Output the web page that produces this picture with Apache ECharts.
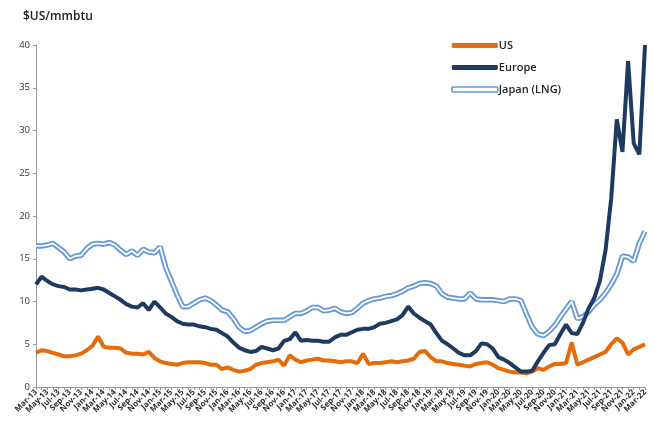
<!DOCTYPE html>
<html>
<head>
<meta charset="utf-8">
<script src="https://cdn.jsdelivr.net/npm/echarts@6/dist/echarts.min.js"></script>
<style>html,body{margin:0;padding:0;background:#fff;}#c{width:654px;height:425px;}</style>
</head>
<body>
<div id="c"></div>
<script>
const MONTHS = ['Jan','Feb','Mar','Apr','May','Jun','Jul','Aug','Sep','Oct','Nov','Dec'];
const categories = [];
for (let y = 13; y <= 22; y++) {
  for (let m = 0; m < 12; m++) {
    if (y === 13 && m < 2) continue;
    if (y === 22 && m > 2) break;
    categories.push(MONTHS[m] + '-' + y);
  }
}
const usPrices = [
  4.0,4.3,4.2,4.0,3.8,3.6,3.6,3.7,3.9,4.3,
  4.8,5.9,4.7,4.6,4.6,4.5,4.0,3.9,3.9,3.8,
  4.1,3.4,3.0,2.8,2.7,2.6,2.8,2.9,2.9,2.9,
  2.8,2.6,2.6,2.1,2.3,2.0,1.8,1.9,2.1,2.6,
  2.8,2.9,3.0,3.2,2.5,3.7,3.2,2.9,3.1,3.2,
  3.3,3.1,3.1,3.0,2.9,3.0,3.0,2.8,3.9,2.7,
  2.8,2.8,2.9,3.0,2.9,3.0,3.1,3.3,4.1,4.2,
  3.5,3.0,3.0,2.8,2.7,2.6,2.5,2.4,2.7,2.8,
  2.9,2.6,2.2,2.0,1.8,1.7,1.7,1.6,1.8,2.2,
  2.0,2.4,2.7,2.7,2.8,5.2,2.6,2.9,3.2,3.5,
  3.8,4.1,5.0,5.7,5.2,3.8,4.4,4.7,5.0
];
const europePrices = [
  12.0,12.9,12.4,12.0,11.8,11.7,11.4,11.4,11.3,11.4,
  11.5,11.6,11.4,11.0,10.6,10.2,9.7,9.4,9.3,9.8,
  9.0,10.0,9.3,8.6,8.2,7.7,7.4,7.3,7.3,7.1,
  7.0,6.8,6.7,6.3,5.9,5.2,4.6,4.3,4.1,4.2,
  4.7,4.5,4.3,4.5,5.4,5.6,6.4,5.4,5.5,5.4,
  5.4,5.3,5.3,5.8,6.1,6.1,6.4,6.7,6.8,6.8,
  7.0,7.4,7.5,7.7,7.9,8.4,9.4,8.6,8.1,7.7,
  7.3,6.3,5.4,5.0,4.5,4.0,3.7,3.7,4.2,5.1,
  5.0,4.5,3.5,3.2,2.8,2.3,1.8,1.8,1.9,3.0,
  4.0,4.9,5.0,6.2,7.3,6.3,6.2,7.5,9.2,10.4,
  12.4,16.0,22.0,31.3,27.5,38.1,28.5,27.2,40.0
];
const japanPrices = [
  16.5,16.5,16.6,16.8,16.3,15.8,15.0,15.3,15.4,16.2,
  16.7,16.8,16.7,16.9,16.6,16.0,15.5,15.9,15.4,16.1,
  15.8,15.7,16.4,14.0,12.4,10.8,9.4,9.4,9.8,10.2,
  10.4,10.1,9.6,9.0,8.8,8.0,7.0,6.5,6.6,7.0,
  7.4,7.7,7.8,7.8,7.8,8.2,8.6,8.6,8.9,9.3,
  9.3,8.9,9.0,9.2,8.8,8.6,8.7,9.2,9.8,10.1,
  10.3,10.4,10.6,10.7,10.9,11.2,11.6,11.8,12.1,12.2,
  12.1,11.8,10.9,10.5,10.4,10.3,10.3,11.0,10.3,10.2,
  10.2,10.2,10.1,10.0,10.3,10.3,10.1,8.5,7.0,6.2,
  6.0,6.5,7.2,8.2,9.1,10.0,8.0,8.2,8.8,9.6,
  10.2,11.0,12.0,13.2,15.3,15.2,14.7,16.8,18.2
];
const yTicks = {min: 0, max: 40, step: 5};
const seriesNames = ['US', 'Europe', 'Japan (LNG)'];
const unitLabel = '$US/mmbtu';

const US_C = '#e46c0a', EU_C = '#1f3a60', JP_C = '#6699d6';
const chart = echarts.init(document.getElementById('c'), null, {renderer: 'canvas'});
chart.setOption({
  animation: false,
  backgroundColor: '#fff',
  textStyle: {fontFamily: '"Open Sans", "Noto Sans", sans-serif'},
  title: {
    text: unitLabel, left: 18, top: 6,
    textStyle: {fontSize: 12, fontWeight: 600, color: '#222', fontFamily: '"Open Sans", sans-serif'}
  },
  legend: {
    orient: 'vertical', left: 446, top: 35, itemGap: 11,
    itemWidth: 46, itemHeight: 5,
    textStyle: {fontSize: 11, fontWeight: 600, color: '#222', padding: [0,0,0,-4]},
    data: [
      {name: seriesNames[0], icon: 'roundRect', itemStyle: {color: US_C}},
      {name: seriesNames[1], icon: 'roundRect', itemStyle: {color: EU_C}},
      {name: seriesNames[2], icon: 'roundRect', itemStyle: {color: '#fff', borderColor: JP_C, borderWidth: 1.6}}
    ]
  },
  grid: {left: 36, right: 9, top: 45, bottom: 38, containLabel: false},
  xAxis: {
    type: 'category', data: categories, boundaryGap: false,
    axisLine: {lineStyle: {color: '#9a9a9a', width: 1}},
    axisTick: {show: true, interval: 0, length: 3, lineStyle: {color: '#9a9a9a'}},
    axisLabel: {interval: 1, rotate: 45, fontSize: 8, fontWeight: 700, color: '#2a2a2a', margin: 4}
  },
  yAxis: {
    type: 'value', min: yTicks.min, max: yTicks.max, interval: yTicks.step,
    splitLine: {show: false},
    axisLine: {show: true, lineStyle: {color: '#9a9a9a'}},
    axisTick: {show: true, length: 3, lineStyle: {color: '#9a9a9a'}},
    axisLabel: {fontSize: 9.5, color: '#333', margin: 6}
  },
  series: [
    {name: seriesNames[2], type: 'line', data: japanPrices, symbol: 'none', z: 2,
      lineStyle: {color: JP_C, width: 5.5}, itemStyle: {color: JP_C}},
    {name: 'jp-core', type: 'line', data: japanPrices, symbol: 'none', z: 3, silent: true,
      lineStyle: {color: '#ffffff', width: 1.8}, itemStyle: {color: '#fff'}},
    {name: seriesNames[0], type: 'line', data: usPrices, symbol: 'none', z: 4,
      lineStyle: {color: US_C, width: 4}, itemStyle: {color: US_C}},
    {name: seriesNames[1], type: 'line', data: europePrices, symbol: 'none', z: 5,
      lineStyle: {color: EU_C, width: 4}, itemStyle: {color: EU_C}}
  ]
});
</script>
</body>
</html>
